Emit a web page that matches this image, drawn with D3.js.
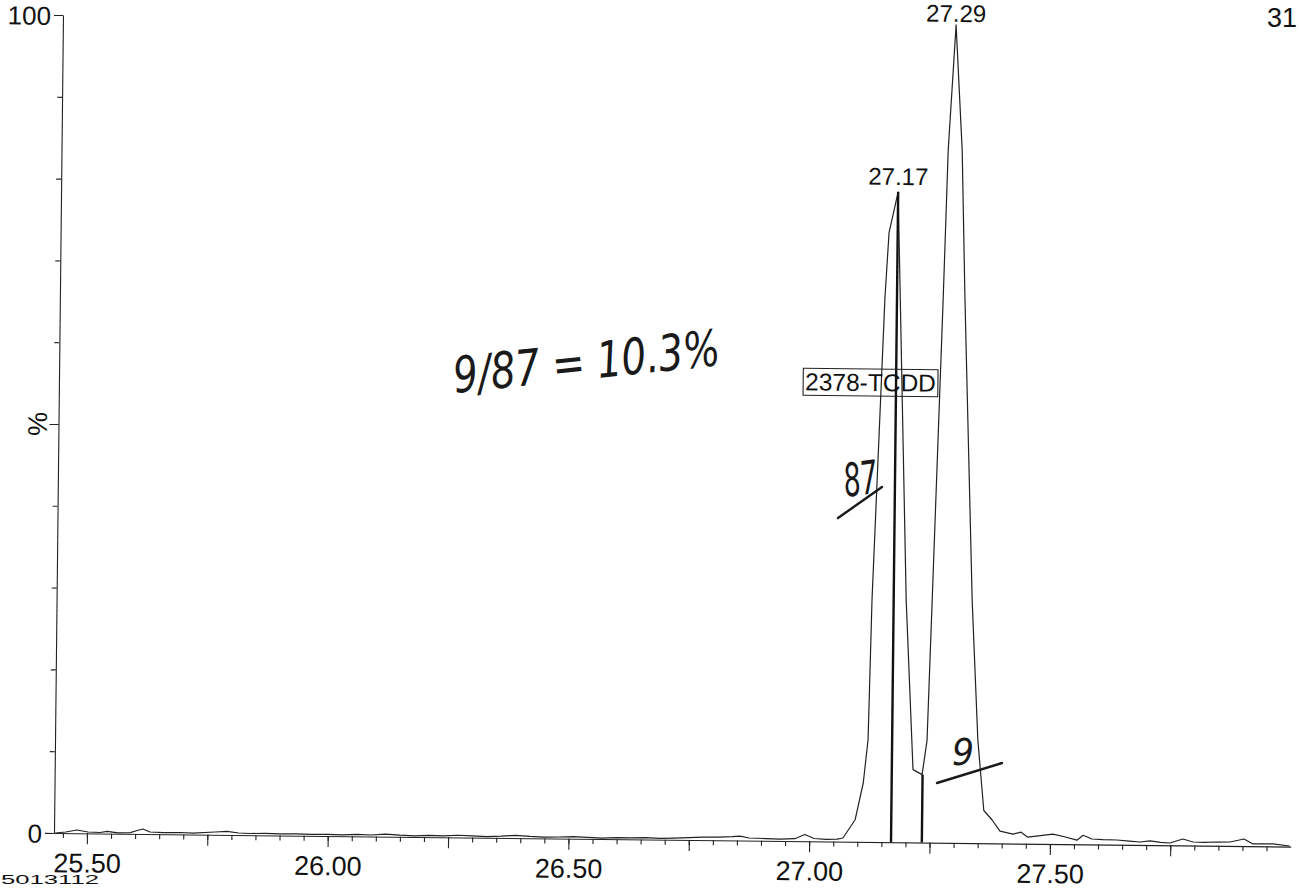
<!DOCTYPE html>
<html>
<head>
<meta charset="utf-8">
<title>2378-TCDD chromatogram</title>
<script src="https://d3js.org/d3.v7.min.js"></script>
<style>
body { margin: 0; background: #fff; }
svg { display: block; }
text { font-family: "Liberation Sans", Arial, sans-serif; fill: #111; }
.axis path, .axis line { stroke: #222; stroke-width: 1.1; }
.axis text { font-size: 27px; fill: #111; }
.yaxis text { font-size: 26px; }
.trace { fill: none; stroke: #222; stroke-width: 1.2; stroke-linejoin: round; }
.drop { stroke: #111; stroke-width: 2.4; }
.peaklabel { font-size: 24px; }
.boxlabel { font-size: 24.5px; }
.hand { font-family: "DejaVu Sans ExtraLight", "DejaVu Sans", sans-serif; font-style: italic; font-weight: 200; fill: #1a1a1a; }
.pen { stroke: #1a1a1a; stroke-width: 2.4; stroke-linecap: round; }
</style>
</head>
<body>
<div id="plot"></div>
<script>

var width = 1299;
var height = 888;

// retention time (min) and relative intensity (%)
var times = [25.434, 25.456, 25.479, 25.502, 25.527, 25.542, 25.564, 25.590, 25.604, 25.616,
  25.631, 25.660, 25.693, 25.720, 25.766, 25.791, 25.815, 25.839, 25.870, 25.900,
  25.935, 25.965, 26.000, 26.030, 26.060, 26.090, 26.120, 26.150, 26.180, 26.210,
  26.240, 26.270, 26.300, 26.330, 26.360, 26.390, 26.420, 26.450, 26.480, 26.510,
  26.540, 26.570, 26.600, 26.630, 26.660, 26.690, 26.720, 26.750, 26.780, 26.810,
  26.840, 26.856, 26.875, 26.910, 26.940, 26.970, 26.991, 27.010, 27.035, 27.058,
  27.070,
  27.095, 27.111, 27.120, 27.125, 27.145, 27.152, 27.170, 27.196, 27.214, 27.233,
  27.2425, 27.250, 27.266, 27.273, 27.2865, 27.302, 27.311, 27.333, 27.348, 27.362,
  27.3795,
  27.396, 27.423, 27.440, 27.454, 27.480, 27.506, 27.530, 27.556, 27.569, 27.587,
  27.610, 27.639, 27.665, 27.687, 27.708, 27.730, 27.749, 27.776, 27.797, 27.820,
  27.847, 27.874, 27.903, 27.9215, 27.940, 27.963, 27.998];

var intensity = [0.00, 0.14, 0.40, 0.17, 0.12, 0.26, 0.09, 0.15, 0.42, 0.61,
  0.25, 0.20, 0.23, 0.18, 0.34, 0.42, 0.25, 0.20, 0.24, 0.19,
  0.22, 0.17, 0.21, 0.15, 0.24, 0.18, 0.30, 0.20, 0.14, 0.22,
  0.16, 0.27, 0.20, 0.13, 0.21, 0.33, 0.22, 0.15, 0.19, 0.26,
  0.18, 0.12, 0.20, 0.17, 0.24, 0.15, 0.21, 0.30, 0.36, 0.40,
  0.46, 0.55, 0.32, 0.28, 0.22, 0.30, 0.83, 0.35, 0.25, 0.30,
  0.45,
  2.7, 7.2, 12.5, 29.6, 66.6, 74.5, 79.5, 29.6, 8.9, 8.3,
  12.5, 29.7, 66.7, 84.7, 100, 84.7, 66.8, 29.7, 12.6, 4.0,
  2.85,
  1.5, 1.15, 1.4, 0.8, 1.0, 1.2, 0.9, 0.5, 1.1, 0.66,
  0.6, 0.57, 0.45, 0.36, 0.5, 0.35, 0.28, 0.78, 0.43, 0.40,
  0.46, 0.48, 0.87, 0.27, 0.30, 0.30, 0.07];

// peak apex labels
var peakLabels = ["27.17", "27.29"];
var peakTimes = [27.170, 27.2865];
var peakHeights = [79.5, 100];

// integration drop lines
var dropTimes = [27.170, 27.234];
var dropHeights = [79.5, 8.3];

// compound label
var compound = "2378-TCDD";
var compoundTime = 27.117;
var compoundPct = 56.2;

// axis ticks
var xLabels = ["25.50", "26.00", "26.50", "27.00", "27.50"];
var xMajor = [25.50, 25.75, 26.00, 26.25, 26.50, 26.75, 27.00, 27.25, 27.50, 27.75];
var xMinor = d3.range(25.45, 27.96, 0.05);
var yLabels = ["0", "100"];
var yMajor = [0, 50, 100];
var yMinor = d3.range(0, 101, 10);

var svg = d3.select("#plot").append("svg")
  .attr("width", width).attr("height", height);

// the printed sheet was scanned a little crooked
var chart = svg.append("g").attr("transform", "rotate(0.63 54 833)");

var xScale = d3.scaleLinear().domain([25.4315, 28.0]).range([54, 1290.7]);
var yScale = d3.scaleLinear().domain([0, 100]).range([833, 15]);

// x axis: minor ticks, then majors with labels every 0.5 min
chart.append("g").attr("class", "axis")
  .attr("transform", "translate(0,833)")
  .call(d3.axisBottom(xScale).tickValues(xMinor).tickSize(5).tickSizeOuter(0).tickFormat(""));

chart.append("g").attr("class", "axis")
  .attr("transform", "translate(0,833)")
  .call(d3.axisBottom(xScale).tickValues(xMajor).tickSize(11).tickSizeOuter(0)
    .tickFormat(function (d) {
      var s = d3.format(".2f")(d);
      return xLabels.indexOf(s) >= 0 ? s : "";
    }))
  .call(function (g) { g.select(".domain").remove(); })
  .selectAll("text").attr("y", 20);

// y axis
chart.append("g").attr("class", "axis yaxis")
  .attr("transform", "translate(54,0)")
  .call(d3.axisLeft(yScale).tickValues(yMinor).tickSize(5).tickSizeOuter(0).tickFormat(""));

chart.append("g").attr("class", "axis yaxis")
  .attr("transform", "translate(54,0)")
  .call(d3.axisLeft(yScale).tickValues(yMajor).tickSize(9).tickSizeOuter(0)
    .tickFormat(function (d) {
      return yLabels.indexOf(String(d)) >= 0 ? String(d) : "";
    }))
  .call(function (g) { g.select(".domain").remove(); })
  .selectAll("text").attr("x", -12).attr("dy", "0.36em");

chart.append("text")
  .attr("transform", "translate(33," + yScale(50) + ") rotate(-90)")
  .attr("text-anchor", "middle").attr("dy", "0.35em")
  .style("font-size", "27px")
  .text("%");

// trace
var points = times.map(function (t, i) { return [t, intensity[i]]; });
var line = d3.line()
  .x(function (d) { return xScale(d[0]); })
  .y(function (d) { return yScale(d[1]); });

chart.append("path").attr("class", "trace").attr("d", line(points));

// drop lines
chart.selectAll("line.drop")
  .data(dropTimes).enter().append("line")
  .attr("class", "drop")
  .attr("x1", function (d) { return xScale(d); })
  .attr("x2", function (d) { return xScale(d); })
  .attr("y1", yScale(0))
  .attr("y2", function (d, i) { return yScale(dropHeights[i]); });

// peak labels (kept just inside the page at the top)
chart.selectAll("text.peaklabel")
  .data(peakLabels).enter().append("text")
  .attr("class", "peaklabel")
  .attr("text-anchor", "middle")
  .attr("x", function (d, i) { return xScale(peakTimes[i]); })
  .attr("y", function (d, i) { return Math.max(yScale(peakHeights[i]) - 7, 12); })
  .text(function (d) { return d; });

// boxed compound name
var boxText = chart.append("text").attr("class", "boxlabel")
  .attr("text-anchor", "middle")
  .attr("x", xScale(compoundTime))
  .attr("y", yScale(compoundPct))
  .attr("dy", "0.36em")
  .text(compound);
var bb = boxText.node().getBBox();
chart.append("rect")
  .attr("x", bb.x - 2).attr("y", bb.y)
  .attr("width", bb.width + 4).attr("height", bb.height)
  .attr("fill", "none").attr("stroke", "#222").attr("stroke-width", 1.1);

// page text at the edges of the scan
svg.append("text").attr("x", 1267).attr("y", 27).style("font-size", "27px").text("31");
svg.append("text").attr("x", 1).attr("y", 884)
  .attr("textLength", 98).attr("lengthAdjust", "spacingAndGlyphs")
  .style("font-size", "12px").text("5013112");

// handwritten notes on the printout
var hand = svg.append("g");
hand.append("text").attr("class", "hand")
  .attr("x", 455).attr("y", 393)
  .attr("transform", "rotate(-6 455 393)")
  .attr("textLength", 268).attr("lengthAdjust", "spacingAndGlyphs")
  .style("font-size", "50px")
  .text("9/87 = 10.3%");

hand.append("text").attr("class", "hand")
  .attr("x", 846).attr("y", 497)
  .attr("transform", "rotate(-8 846 497)")
  .attr("textLength", 34).attr("lengthAdjust", "spacingAndGlyphs")
  .style("font-size", "46px")
  .text("87");
hand.append("line").attr("class", "pen")
  .attr("x1", 838).attr("y1", 518).attr("x2", 882).attr("y2", 487);

hand.append("text").attr("class", "hand")
  .attr("x", 952).attr("y", 765)
  .attr("textLength", 22).attr("lengthAdjust", "spacingAndGlyphs")
  .style("font-size", "38px")
  .text("9");
hand.append("line").attr("class", "pen")
  .attr("x1", 937).attr("y1", 783).attr("x2", 1002).attr("y2", 763);

</script>
</body>
</html>
